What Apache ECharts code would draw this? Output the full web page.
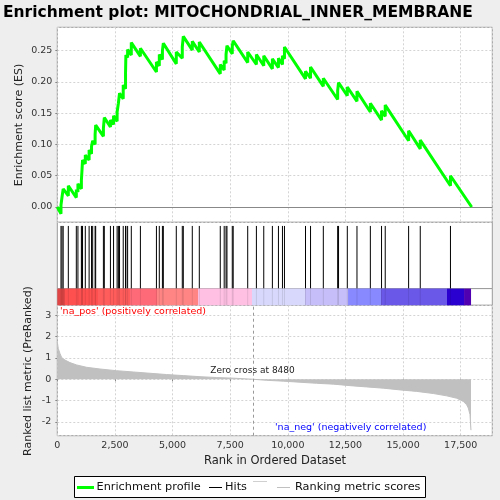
<!DOCTYPE html>
<html>
<head>
<meta charset="utf-8">
<script src="https://cdn.jsdelivr.net/npm/echarts@6/dist/echarts.min.js"></script>
<style>
  html, body { margin: 0; padding: 0; background: #eeeeee; }
  #chart { width: 500px; height: 500px; }
</style>
</head>
<body>
<div id="chart"></div>
<script>
// hits of the gene set in the ranked list, with the running score just before / after each hit
const hitRanks = [160, 205, 255, 478, 825, 895, 1045, 1070, 1095, 1215, 1380, 1485, 1535, 1640, 1665,
  2000, 2040, 2305, 2440, 2595, 2650, 2700, 2860, 2960, 2975, 3050, 3210, 3605, 4300, 4425,
  4560, 4600, 5162, 5422, 5466, 5856, 6160, 7070, 7240, 7320, 7360, 7590, 7630, 8260, 8637,
  8956, 9330, 9593, 9767, 9854, 10767, 10985, 11540, 12162, 12200, 12580, 13000, 13580, 14065, 14225,
  15240, 15745, 17055];
const esBefore = [-0.011, 0.001, 0.013, 0.018, 0.015, 0.024, 0.029, 0.042, 0.057, 0.069, 0.075, 0.085, 0.094, 0.100, 0.115,
  0.113, 0.124, 0.128, 0.132, 0.137, 0.149, 0.163, 0.173, 0.189, 0.213, 0.239, 0.243, 0.241, 0.216, 0.226,
  0.236, 0.248, 0.229, 0.238, 0.254, 0.251, 0.248, 0.213, 0.219, 0.230, 0.242, 0.245, 0.255, 0.231, 0.228,
  0.226, 0.221, 0.223, 0.228, 0.237, 0.205, 0.206, 0.193, 0.172, 0.184, 0.178, 0.169, 0.152, 0.139, 0.145,
  0.106, 0.093, 0.034];
const esAfter = [0.003, 0.016, 0.029, 0.034, 0.028, 0.037, 0.043, 0.058, 0.075, 0.083, 0.091, 0.097, 0.106, 0.116, 0.131,
  0.126, 0.143, 0.139, 0.146, 0.152, 0.166, 0.182, 0.195, 0.214, 0.243, 0.252, 0.263, 0.254, 0.232, 0.244,
  0.250, 0.262, 0.248, 0.256, 0.273, 0.265, 0.264, 0.228, 0.234, 0.244, 0.258, 0.257, 0.266, 0.248, 0.244,
  0.242, 0.237, 0.238, 0.242, 0.256, 0.217, 0.224, 0.206, 0.186, 0.199, 0.192, 0.185, 0.166, 0.154, 0.163,
  0.122, 0.107, 0.050];
const listSize = 17975;
const zeroCross = 8480;

// ranked list metric (read along the grey profile)
const metricRanks = [0, 43, 116, 188, 333, 550, 839, 1272, 1851, 2574, 3297, 4020, 4743, 5466, 6189, 6912, 7635,
  8480, 9081, 9804, 10527, 11250, 11973, 12696, 13419, 14142, 14865, 15588, 16311, 16890, 17323, 17612,
  17757, 17829, 17902, 17945];
const metricValues = [1.75, 1.44, 1.21, 1.02, 0.90, 0.78, 0.67, 0.56, 0.48, 0.40, 0.34, 0.28, 0.22, 0.17, 0.12, 0.08, 0.05,
  0.00, -0.05, -0.09, -0.14, -0.19, -0.23, -0.30, -0.36, -0.42, -0.50, -0.57, -0.67, -0.78, -0.89, -1.04,
  -1.20, -1.35, -1.66, -2.39];

// colour bar blocks (start rank of each block)
const bandStarts = [0, 334, 1766, 3154, 4325, 6104, 8447, 10746, 12612, 14043, 16906, 17644];
const bandEnd = 17948;
const bandColors = ['#e04646', '#ff5050', '#ff5c5c', '#ff6a78', '#ff8585', '#ffc0e4', '#d8d8fc', '#c6bef8',
  '#8888ff', '#6a58e8', '#2a00d0', '#5000b0'];

const esData = [[0, 0]];
hitRanks.forEach((r, i) => {
  esData.push([r, esBefore[i]]);
  esData.push([r, esAfter[i]]);
});
esData.push([listSize, 0]);

const metricData = metricRanks.map((r, i) => [r, metricValues[i]]);
const bandData = bandStarts.map((s, i) => [s, i + 1 < bandStarts.length ? bandStarts[i + 1] : bandEnd, i]);

const FONT = '"DejaVu Sans", sans-serif';
const L = 57.3, R = 7.7;
const XMAX = 18870;
const dashed = { show: true, lineStyle: { color: '#d4d4d4', type: [2, 2], width: 1 } };

function xAx(grid, show) {
  return {
    type: 'value', gridIndex: grid, min: 0, max: XMAX, interval: 2500,
    axisLine: { show: false },
    axisTick: { show: show, length: 2, lineStyle: { color: '#888' } },
    axisLabel: { show: show, margin: 5, fontSize: 9.5, fontFamily: FONT, color: '#333' },
    splitLine: (grid === 0 || grid === 3) ? dashed : { show: false }
  };
}

const option = {
  backgroundColor: '#eeeeee',
  animation: false,
  grid: [
    { left: L, right: R, top: 27.3, height: 195, show: true, backgroundColor: '#fff', borderColor: '#999', borderWidth: 1 },
    { left: L, right: R, top: 222.3, height: 66.3, show: true, backgroundColor: '#fff', borderColor: '#999', borderWidth: 1 },
    { left: L, right: R, top: 288.6, height: 16.7, show: true, backgroundColor: '#fff', borderColor: '#999', borderWidth: 1 },
    { left: L, right: R, top: 305.3, height: 130.4, show: true, backgroundColor: '#fff', borderColor: '#999', borderWidth: 1 }
  ],
  xAxis: [xAx(0, false), xAx(1, false), xAx(2, false), xAx(3, true)],
  yAxis: [
    {
      type: 'value', gridIndex: 0, min: -0.0245, max: 0.2875, splitNumber: 6,
      axisLine: { show: false },
      axisTick: { show: true, length: 2, lineStyle: { color: '#888' } },
      axisLabel: { margin: 5, fontSize: 9.5, fontFamily: FONT, color: '#333', showMinLabel: false, showMaxLabel: false,
        formatter: v => v.toFixed(2) },
      splitLine: dashed
    },
    { type: 'value', gridIndex: 1, min: 0, max: 1, show: false },
    { type: 'value', gridIndex: 2, min: 0, max: 1, show: false },
    {
      type: 'value', gridIndex: 3, min: -2.65, max: 3.47, splitNumber: 6,
      axisLine: { show: false },
      axisTick: { show: true, length: 2, lineStyle: { color: '#888' } },
      axisLabel: { margin: 6, fontSize: 9.5, fontFamily: FONT, color: '#333', showMinLabel: false, showMaxLabel: false },
      splitLine: dashed
    }
  ],
  series: [
    {
      type: 'line', xAxisIndex: 0, yAxisIndex: 0, data: esData, showSymbol: false, silent: true,
      lineStyle: { color: '#00ff00', width: 3 }, z: 5,
      markLine: {
        silent: true, symbol: 'none', label: { show: false },
        lineStyle: { color: '#888', type: 'solid', width: 1 },
        data: [{ yAxis: 0 }]
      }
    },
    {
      type: 'custom', xAxisIndex: 1, yAxisIndex: 1, data: hitRanks.map(r => [r]), silent: true,
      renderItem: (params, api) => {
        const a = api.coord([api.value(0), 0]);
        const b = api.coord([api.value(0), 0.945]);
        return { type: 'line', shape: { x1: a[0], y1: a[1], x2: b[0], y2: b[1] }, style: { stroke: '#000', lineWidth: 1 } };
      }
    },
    {
      type: 'custom', xAxisIndex: 2, yAxisIndex: 2, data: bandData, silent: true,
      renderItem: (params, api) => {
        const a = api.coord([api.value(0), 1]);
        const b = api.coord([api.value(1), 0]);
        return { type: 'rect', shape: { x: a[0], y: a[1], width: b[0] - a[0], height: b[1] - a[1] },
          style: { fill: bandColors[api.value(2)] } };
      }
    },
    {
      type: 'custom', xAxisIndex: 2, yAxisIndex: 2, data: hitRanks.map(r => [r]), silent: true, z: 3,
      renderItem: (params, api) => {
        const a = api.coord([api.value(0), 0]);
        const b = api.coord([api.value(0), 1]);
        return { type: 'line', shape: { x1: a[0], y1: a[1], x2: b[0], y2: b[1] }, style: { stroke: 'rgba(0,0,0,0.1)', lineWidth: 1 } };
      }
    },
    {
      type: 'line', xAxisIndex: 3, yAxisIndex: 3, data: metricData, showSymbol: false, silent: true,
      lineStyle: { color: '#c0c0c0', width: 1 }, areaStyle: { color: '#c0c0c0', opacity: 1 },
      markLine: {
        silent: true, symbol: 'none', label: { show: false },
        lineStyle: { color: '#999', type: [3, 3], width: 1 },
        data: [{ xAxis: zeroCross }]
      }
    }
  ],
  graphic: [
    { type: 'text', x: 3, y: 13, style: { text: 'Enrichment plot: MITOCHONDRIAL_INNER_MEMBRANE',
      font: 'bold 15.5px "DejaVu Sans", sans-serif', fill: '#000', verticalAlign: 'middle' } },
    { type: 'text', x: 19, y: 125, rotation: Math.PI / 2, style: { text: 'Enrichment score (ES)',
      font: '11px "DejaVu Sans", sans-serif', fill: '#222', align: 'center', verticalAlign: 'middle' } },
    { type: 'text', x: 28, y: 371, rotation: Math.PI / 2, style: { text: 'Ranked list metric (PreRanked)',
      font: '11px "DejaVu Sans", sans-serif', fill: '#222', align: 'center', verticalAlign: 'middle' } },
    { type: 'text', x: 275, y: 461.5, style: { text: 'Rank in Ordered Dataset',
      font: '11.5px "DejaVu Sans", sans-serif', fill: '#222', align: 'center', verticalAlign: 'middle' } },
    { type: 'text', x: 60, y: 312, z: 10, style: { text: "'na_pos' (positively correlated)",
      font: '9.5px "DejaVu Sans", sans-serif', fill: '#ff0000', verticalAlign: 'middle' } },
    { type: 'text', x: 252.5, y: 370.7, z: 10, style: { text: 'Zero cross at ' + zeroCross,
      font: '9px "DejaVu Sans", sans-serif', fill: '#222', align: 'center', verticalAlign: 'middle' } },
    { type: 'text', x: 275, y: 427.3, z: 10, style: { text: "'na_neg' (negatively correlated)",
      font: '9.5px "DejaVu Sans", sans-serif', fill: '#0000ff', verticalAlign: 'middle' } },
    // legend
    { type: 'rect', shape: { x: 74.5, y: 476.5, width: 351, height: 21 }, style: { fill: '#fff', stroke: '#000', lineWidth: 1 } },
    { type: 'line', shape: { x1: 77, y1: 487.5, x2: 94, y2: 487.5 }, style: { stroke: '#00ff00', lineWidth: 3 } },
    { type: 'text', x: 96.5, y: 487.5, style: { text: 'Enrichment profile', font: '11.3px "DejaVu Sans", sans-serif', fill: '#111', verticalAlign: 'middle' } },
    { type: 'line', shape: { x1: 209, y1: 487.5, x2: 222, y2: 487.5 }, style: { stroke: '#000', lineWidth: 1 } },
    { type: 'text', x: 225, y: 487.5, style: { text: 'Hits', font: '11.3px "DejaVu Sans", sans-serif', fill: '#111', verticalAlign: 'middle' } },
    { type: 'line', shape: { x1: 253, y1: 481.5, x2: 267, y2: 481.5 }, style: { stroke: '#d0d0d0', lineWidth: 1 } },
    { type: 'line', shape: { x1: 277, y1: 487.5, x2: 290, y2: 487.5 }, style: { stroke: '#c0c0c0', lineWidth: 1 } },
    { type: 'text', x: 295, y: 487.5, style: { text: 'Ranking metric scores', font: '11.3px "DejaVu Sans", sans-serif', fill: '#111', verticalAlign: 'middle' } }
  ]
};

const chart = echarts.init(document.getElementById('chart'), null, { renderer: 'canvas' });
chart.setOption(option);
</script>
</body>
</html>
